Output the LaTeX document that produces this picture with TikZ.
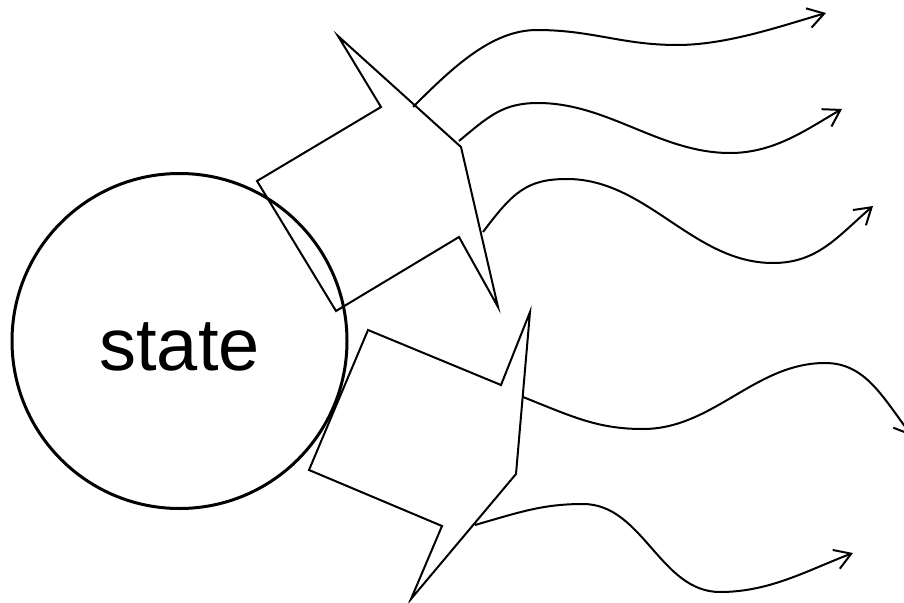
\documentclass[tikz,border=0pt]{standalone}
\usepackage{fontspec}
\setmainfont{Liberation Sans}
\usetikzlibrary{arrows.meta}

\tikzset{
  statenode/.style={draw, circle, line width=3pt, minimum size=335pt, inner sep=0pt,
    text height=58pt, text depth=0pt, font=\fontsize{74}{80}\selectfont},
  blockarrow/.style={line width=2pt},
  wave/.style={line width=2pt, -{Straight Barb[length=16pt, width=20pt, line width=2pt]}},
}

\begin{document}
\begin{tikzpicture}[x=1pt, y=-1pt]
\clip (0,0) rectangle (904,602);

% the state
\node[statenode] (state) at (179.5,341) {state};

% block arrows leaving the state
\draw[blockarrow] (257,181) -- (381,107) -- (338,36) -- (461,147)
  -- (498,307) -- (459,237) -- (336,311) -- cycle;
\draw[blockarrow] (368,330) -- (501,385) -- (530,312) -- (516,474)
  -- (411,599) -- (442,526) -- (309,470) -- cycle;

% where the waves start and end
\coordinate (out1) at (413,107);  \coordinate (tip1) at (826,13);
\coordinate (out2) at (459,141);  \coordinate (tip2) at (842,109);
\coordinate (out3) at (483,232);  \coordinate (tip3) at (873,206);
\coordinate (out4) at (523,397);  \coordinate (tip4) at (912,436);
\coordinate (out5) at (475,525);  \coordinate (tip5) at (853,553);

% wavy outputs
\draw[wave] (out1) .. controls +(40,-40) and +(-45,0) .. (537,30)
  .. controls +(55,0) and +(-55,0) .. (677,45)
  .. controls +(50,0) and +(-45,13) .. (tip1);
\draw[wave] (out2) .. controls +(30,-25) and +(-35,0) .. (538,103)
  .. controls +(70,0) and +(-70,0) .. (730,153)
  .. controls +(45,0) and +(-35,20) .. (tip2);
\draw[wave] (out3) .. controls +(30,-40) and +(-40,0) .. (567,179)
  .. controls +(80,0) and +(-80,0) .. (773,263)
  .. controls +(45,0) and +(-35,30) .. (tip3);
\draw[wave] (out4) .. controls +(50,20) and +(-45,0) .. (643,429)
  .. controls +(70,0) and +(-70,0) .. (825,363)
  .. controls +(40,0) and +(-30,-40) .. (tip4);
\draw[wave] (out5) .. controls +(45,-13) and +(-40,0) .. (583,504)
  .. controls +(60,0) and +(-60,0) .. (720,592)
  .. controls +(50,0) and +(-45,17) .. (tip5);
\end{tikzpicture}
\end{document}
